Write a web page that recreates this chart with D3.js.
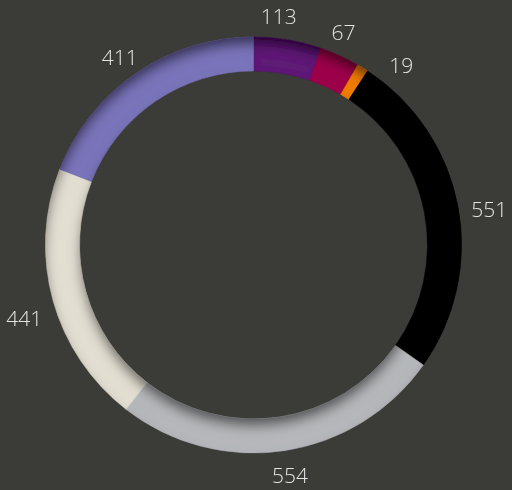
<!DOCTYPE html>
<html><head><meta charset="utf-8">
<script src="https://cdn.jsdelivr.net/npm/d3@7"></script>
<style>html,body{margin:0;padding:0;background:#3b3b38;}svg{display:block;}</style>
</head><body>
<svg id="c" width="512" height="490"></svg>
<script>
const categories = ["A","B","C","D","E","F","G"];
const values = [113, 67, 19, 551, 554, 441, 411];
const colors = ["#5e1f76", "#9c004c", "#f07d00", "#000000", "#b5b7ba", "#e2ded2", "#7a74ba"];

const W = 512, H = 490;
const cx = 253.5, cy = 245, rOut = 208, rIn = 174, rLab = 239;
const svg = d3.select("#c");
svg.append("rect").attr("width", W).attr("height", H).attr("fill", "#3b3b38");

const defs = svg.append("defs");
const f = defs.append("filter").attr("id", "inset").attr("x", "-10%").attr("y", "-10%").attr("width", "120%").attr("height", "120%");
f.append("feGaussianBlur").attr("in", "SourceAlpha").attr("stdDeviation", 6).attr("result", "blur");
f.append("feOffset").attr("in", "blur").attr("dx", 0).attr("dy", 8).attr("result", "off");
f.append("feComposite").attr("in", "SourceAlpha").attr("in2", "off").attr("operator", "out").attr("result", "inv");
f.append("feFlood").attr("flood-color", "#000").attr("flood-opacity", 0.8).attr("result", "fl");
f.append("feComposite").attr("in", "fl").attr("in2", "inv").attr("operator", "in").attr("result", "sh");
const m = f.append("feMerge");
m.append("feMergeNode").attr("in", "SourceGraphic");
m.append("feMergeNode").attr("in", "sh");

const pie = d3.pie().sort(null).value(d => d)(values);
const arc = d3.arc().innerRadius(rIn).outerRadius(rOut);
const g = svg.append("g").attr("transform", `translate(${cx},${cy})`);
const ring = g.append("g").attr("filter", "url(#inset)");
ring.selectAll("path").data(pie).join("path")
  .attr("d", arc)
  .attr("fill", (d, i) => colors[i])
  .attr("stroke", (d, i) => colors[i]).attr("stroke-width", 0.5);

// label positions with simple angular relaxation
let labs = pie.map((d, i) => ({ a: (d.startAngle + d.endAngle) / 2, v: values[i] }));
const minSep = 0.28;
for (let it = 0; it < 500; it++) {
  for (let i = 0; i < labs.length - 1; i++) {
    const a = labs[i], b = labs[i + 1];
    const gap = b.a - a.a;
    if (gap < minSep) {
      const push = (minSep - gap) / 2;
      a.a -= push; b.a += push;
    }
  }
}
const lx = d => 1 + rLab * Math.sin(d.a);
const ly = d => Math.max(-cy + 14, Math.min(H - cy - 15, 9 - rLab * Math.cos(d.a)));
const tg = g.append("g").style("opacity", 0.99);
tg.selectAll("text").data(labs).join("text")
  .attr("x", lx)
  .attr("y", ly)
  .attr("text-anchor", "middle")
  .attr("dominant-baseline", "central")
  .attr("font-family", "'Open Sans', sans-serif")
  .attr("font-weight", 300)
  .attr("font-size", 21)
  .attr("fill", "#e6e6e6")
  .text(d => d.v);
</script>
</body></html>
